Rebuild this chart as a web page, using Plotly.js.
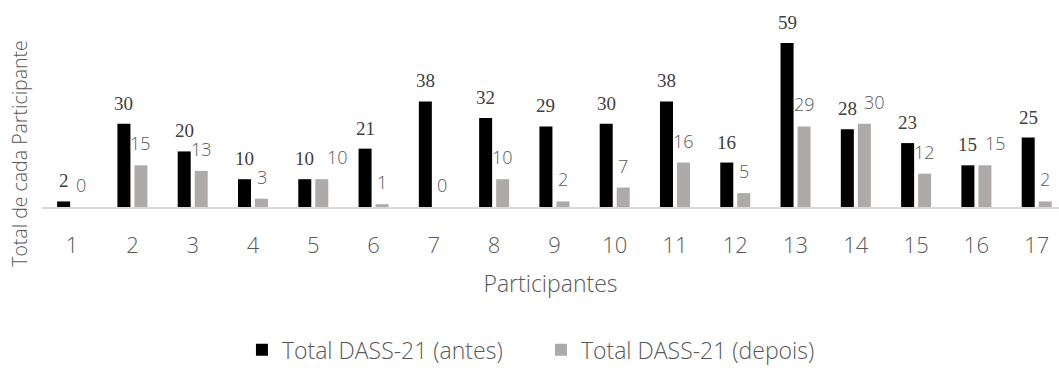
<!DOCTYPE html>
<html>
<head>
<meta charset="utf-8">
<script src="https://cdn.plot.ly/plotly-3.0.1.min.js"></script>
<style>html,body{margin:0;padding:0;background:#fff;}#chart{width:1059px;height:372px;}</style>
</head>
<body>
<div id="chart"></div>
<script>
// ---- data ----
const participantes = ['1','2','3','4','5','6','7','8','9','10','11','12','13','14','15','16','17'];
const antes  = [2, 30, 20, 10, 10, 21, 38, 32, 29, 30, 38, 16, 59, 28, 23, 15, 25];
const depois = [0, 15, 13, 3, 10, 1, 0, 10, 2, 7, 16, 5, 29, 30, 12, 15, 2];
const nomeAntes = 'Total DASS-21 (antes)';
const nomeDepois = 'Total DASS-21 (depois)';

// ---- styling ----
const SANS = '"Open Sans", "Segoe UI", sans-serif';
const SERIF = '"Liberation Serif", "Times New Roman", serif';
const TXT = '#595959';
const barOffset = 8.5;               // px from category centre to each bar centre
const depoisNudge = {4: 16, 13: 10, 15: 11}; // label collision shifts (index -> px)

const traces = [
  {type:'bar', name:nomeAntes, x:participantes, y:antes,
   marker:{color:'#000000'}, hoverinfo:'x+y'},
  {type:'bar', name:nomeDepois, x:participantes, y:depois,
   marker:{color:'#AEAAAA'}, hoverinfo:'x+y'}
];

const annotations = [];
participantes.forEach((p, i) => {
  annotations.push({x:i, y:antes[i], xref:'x', yref:'y', text:String(antes[i]),
    showarrow:false, xanchor:'center', yanchor:'bottom', xshift:-barOffset, yshift:8,
    font:{family:SERIF, size:19, color:'#404040'}});
  annotations.push({x:i, y:depois[i], xref:'x', yref:'y', text:String(depois[i]),
    showarrow:false, xanchor:'center', yanchor:'bottom', xshift:barOffset + (depoisNudge[i]||0), yshift:8,
    font:{family:SANS, size:18, color:TXT, weight:300}});
});
annotations.push({xref:'paper', yref:'paper', x:-0.0216, y:0.27, text:'Total de cada Participante',
  textangle:-90, showarrow:false, xanchor:'center', yanchor:'middle',
  font:{family:SANS, size:19.5, color:TXT, weight:300}});

const layout = {
  width:1059, height:372,
  margin:{l:42, r:0, t:10, b:162, pad:0},
  paper_bgcolor:'#ffffff', plot_bgcolor:'#ffffff',
  barmode:'group', bargap:0.436, bargroupgap:0.235,
  showlegend:true,
  legend:{orientation:'h', x:0.1966, xanchor:'left', y:-0.725, yanchor:'middle',
    font:{family:SANS, size:23, color:TXT, weight:300}, itemwidth:30,
    entrywidth:254, entrywidthmode:'pixels', traceorder:'normal'},
  xaxis:{type:'category', range:[-0.5, 16.37], showgrid:false, zeroline:false,
    showline:true, linecolor:'#D9D9D9', linewidth:1.5, ticks:'',
    ticklabelstandoff:18,
    tickfont:{family:SANS, size:22, color:TXT, weight:300},
    title:{text:'Participantes', standoff:18, font:{family:SANS, size:23, color:TXT, weight:300}},
    automargin:false, fixedrange:true},
  yaxis:{range:[0, 70.9], showgrid:false, zeroline:false, showline:false,
    showticklabels:false, ticks:'', automargin:false, fixedrange:true},
  annotations:annotations
};

Plotly.newPlot('chart', traces, layout, {displayModeBar:false, staticPlot:true});
</script>
</body>
</html>
